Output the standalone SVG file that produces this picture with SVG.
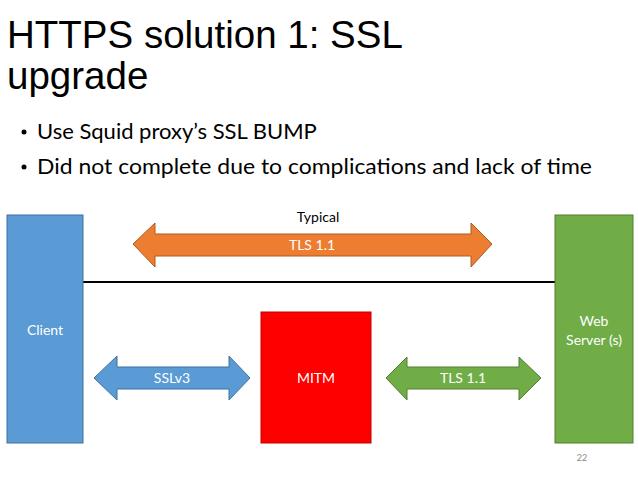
<svg xmlns="http://www.w3.org/2000/svg" width="638" height="479" viewBox="0 0 638 479">
<style>
.title{font-family:"Liberation Sans",Arial,sans-serif;font-size:38.5px;fill:#000}
.bul{font-family:Lato,"Open Sans",sans-serif;font-size:22px;fill:#000}
.lbl{font-family:Lato,"Open Sans",sans-serif;font-size:14px;fill:#fff;text-anchor:middle}
.blk{font-family:Lato,"Open Sans",sans-serif;font-size:14px;fill:#000;text-anchor:middle}
.pg{font-family:Lato,"Open Sans",sans-serif;font-size:9px;fill:#888;text-anchor:middle}
</style>
<rect width="638" height="479" fill="#fff"/>
<text class="title" x="7" y="48">HTTPS solution 1: SSL</text>
<text class="title" x="7" y="89">upgrade</text>
<circle cx="24" cy="132" r="2.5" fill="#000"/>
<text class="bul" x="37" y="139">Use Squid proxy’s SSL BUMP</text>
<circle cx="24" cy="167" r="2.5" fill="#000"/>
<text class="bul" x="37" y="174" textLength="555" lengthAdjust="spacingAndGlyphs">Did not complete due to complications and lack of time</text>
<g id="connectors">
<line x1="83" y1="282" x2="556" y2="282" stroke="#000" stroke-width="2"/>
<g id="typical">
<path d="M133,244 L155,223 L155,234 L471,234 L471,223 L492,244 L471,267 L471,256 L155,256 L155,267 Z" fill="#ED7D31" stroke="#AE5A21" stroke-width="1"/>
<text class="blk" x="318" y="222">Typical</text>
<text class="lbl" x="312" y="250">TLS 1.1</text>
</g>
<g id="sslv3">
<path d="M94,378 L117,356 L117,367 L229,367 L229,356 L250,378 L229,400 L229,389 L117,389 L117,400 Z" fill="#5B9BD5" stroke="#41719C" stroke-width="1"/>
<text class="lbl" x="172" y="383">SSLv3</text>
</g>
<g id="tls">
<path d="M386,378 L407,357 L407,367 L519,367 L519,357 L541,378 L519,400 L519,389 L407,389 L407,400 Z" fill="#70AD47" stroke="#507E32" stroke-width="1"/>
<text class="lbl" x="463" y="383">TLS 1.1</text>
</g>
</g>
<g id="client">
<rect x="7" y="215" width="76" height="228" fill="#5B9BD5" stroke="#41719C" stroke-width="1"/>
<text class="lbl" x="45" y="335">Client</text>
</g>
<g id="mitm">
<rect x="261" y="312" width="110" height="131" fill="#FF0000" stroke="#C00000" stroke-width="1"/>
<text class="lbl" x="316" y="383">MITM</text>
</g>
<g id="webserver">
<rect x="555" y="215" width="78" height="228" fill="#70AD47" stroke="#507E32" stroke-width="1"/>
<text class="lbl" x="594" y="326">Web</text>
<text class="lbl" x="594" y="345">Server (s)</text>
</g>
<text class="pg" x="582" y="461">22</text>
</svg>
